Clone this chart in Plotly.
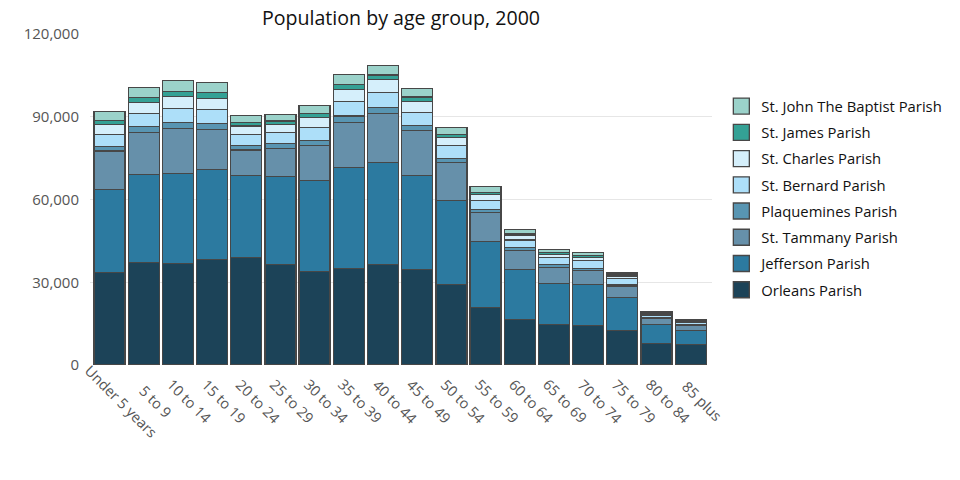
import plotly.graph_objects as go

age_groups = ["Under 5 years", "5 to 9", "10 to 14", "15 to 19", "20 to 24", "25 to 29",
              "30 to 34", "35 to 39", "40 to 44", "45 to 49", "50 to 54", "55 to 59",
              "60 to 64", "65 to 69", "70 to 74", "75 to 79", "80 to 84", "85 plus"]

orleans    = [33600, 37200, 36900, 38300, 39000, 36500, 34000, 35100, 36500, 34700, 29300, 20900, 16600, 14800, 14400, 12400, 7900, 7500]
jefferson  = [30100, 31900, 32600, 32700, 29800, 31900, 33000, 36600, 37000, 34100, 30400, 24000, 18100, 14800, 14900, 12100, 6900, 5100]
tammany    = [13900, 15100, 16300, 14500, 9200, 10200, 12700, 16300, 17800, 16300, 13800, 10300, 6900, 5800, 5000, 4100, 2000, 1800]
plaquemines = [1700, 2200, 2200, 2100, 1700, 1800, 1800, 2300, 2100, 1800, 1400, 1100, 1100, 1100, 800, 500, 500, 400]
bernard    = [4300, 4800, 5100, 5100, 3900, 4000, 4700, 5300, 5500, 4700, 4800, 3300, 2600, 2500, 2900, 2200, 800, 600]
charles    = [3600, 3900, 4300, 4000, 3100, 2900, 3600, 4400, 4700, 4000, 2900, 2200, 1800, 1100, 1000, 900, 500, 400]
james      = [1500, 1800, 1800, 2200, 1300, 1200, 1500, 1800, 1500, 1600, 1000, 700, 700, 600, 600, 400, 300, 300]
john_baptist = [3300, 3600, 4000, 3600, 2500, 2400, 2900, 3600, 3600, 3100, 2600, 2200, 1400, 1200, 1300, 800, 600, 500]

series_names = ["Orleans Parish", "Jefferson Parish", "St. Tammany Parish", "Plaquemines Parish",
                "St. Bernard Parish", "St. Charles Parish", "St. James Parish", "St. John The Baptist Parish"]
series_values = [orleans, jefferson, tammany, plaquemines, bernard, charles, james, john_baptist]
series_colors = ["#1c4358", "#2c7aa0", "#6690aa", "#5895b2", "#addff9", "#d5effb", "#34a195", "#9bd2ca"]

y_ticks = [0, 30000, 60000, 90000, 120000]

FONT = "Open Sans"
EDGE = "#474747"

fig = go.Figure()
for name, vals, col in zip(series_names, series_values, series_colors):
    fig.add_trace(go.Bar(
        x=age_groups, y=vals, name=name, showlegend=False,
        marker=dict(color=col, line=dict(color=EDGE, width=1.3)),
    ))

# legend entries with larger square swatches (top of stack listed first)
n = len(series_names)
for i, (name, col) in enumerate(zip(series_names, series_colors)):
    fig.add_trace(go.Scatter(
        x=[None], y=[None], mode="markers", name=name, legendrank=n - i,
        marker=dict(symbol="square", size=22, color=col, line=dict(color=EDGE, width=1.3)),
        hoverinfo="skip", legendgroup=name,
    ))

# rotated category labels, centred under each bar
for cat in age_groups:
    fig.add_annotation(x=cat, xref="x", y=-0.109, yref="paper", text=cat,
                       textangle=45, xanchor="center", yanchor="middle", xshift=12,
                       showarrow=False, font=dict(family=FONT, size=14.5, color="#555"))

fig.update_layout(
    width=960, height=480,
    barmode="stack", bargap=0.093,
    plot_bgcolor="white", paper_bgcolor="white",
    margin=dict(l=90, r=248, t=34, b=115, autoexpand=False),
    font=dict(family=FONT, size=14, color="#444"),
    title=dict(text="Population by age group, 2000", x=0.5, xref="paper", xanchor="center",
               y=0.9625, yref="container", yanchor="middle",
               font=dict(family=FONT, size=19.6, color="#111")),
    legend=dict(traceorder="grouped", x=1.015, xanchor="left", y=0.831, yanchor="top",
                font=dict(family=FONT, size=14.8, color="#111"), tracegroupgap=4),
    xaxis=dict(type="category", range=[-0.5705, len(age_groups) - 0.377], showticklabels=False,
               showgrid=False, ticks="", automargin=False, fixedrange=True),
    yaxis=dict(range=[0, 120000], tickvals=y_ticks, tickformat=",",
               showgrid=True, gridcolor="#e6e6e6", zeroline=False, automargin=False,
               ticklabelstandoff=10, fixedrange=True,
               tickfont=dict(family=FONT, size=15, color="#555")),
)

fig.write_html("out.html", config={"displayModeBar": False},
               post_script="document.body.style.margin='0';")
